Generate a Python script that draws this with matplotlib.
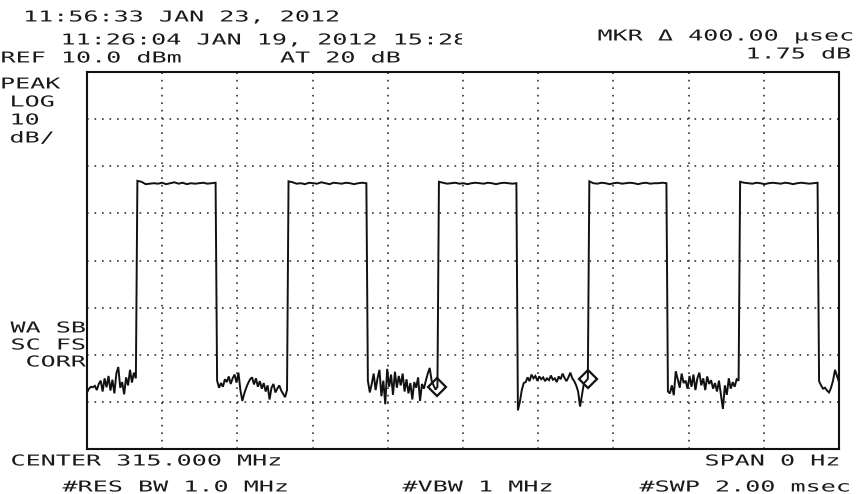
import numpy as np
import matplotlib
matplotlib.use("Agg")
import matplotlib.pyplot as plt
from matplotlib.patheffects import AbstractPathEffect
from matplotlib.transforms import Affine2D, Bbox

# sweep: 2 ms span, ref 10 dBm, 10 dB/div
sweep_ms = 2.0
ref_dbm = 10.0
bottom_dbm = -70.0

rise_ms = [0.130, 0.532, 0.932, 1.332, 1.733]
fall_ms = [0.346, 0.747, 1.146, 1.545, 1.947]

# noise floor between pulses (dBm)
noise0 = [-58.0, -57.2, -56.8, -56.9, -56.6, -57.5, -56.2, -55.5, -57.8, -55.0, -56.9, -54.5, -57.6,
          -55.3, -58.2, -54.0, -52.6, -57.0, -55.8, -58.4, -54.8, -56.5, -53.2, -55.9, -53.8, -55.0]
noise1 = [-55.5, -57.0, -56.0, -56.8, -55.2, -55.8, -54.6, -56.2, -55.0, -54.2, -55.9, -53.8, -57.5,
          -59.8, -58.2, -57.0, -56.0, -55.2, -54.8, -56.3, -55.0, -56.8, -55.6, -57.2, -56.0, -57.8,
          -56.5, -59.5, -57.0, -56.2, -58.0, -57.2, -56.5, -57.6, -58.3, -59.0, -57.5]
noise2 = [-55.5, -58.0, -56.2, -54.0, -57.5, -55.0, -53.2, -58.8, -55.5, -60.5, -53.0, -56.8, -54.2,
          -58.5, -53.6, -57.0, -54.5, -56.5, -54.0, -57.8, -55.2, -58.2, -56.0, -59.5, -55.8, -57.0,
          -54.8, -59.8, -56.2, -57.2, -55.5, -54.0, -52.8, -55.5, -56.5, -57.4, -56.8]
noise3 = [-61.8, -60.0, -57.5, -56.0, -55.8, -54.8, -55.6, -54.2, -55.0, -54.5, -55.5, -54.6, -55.2,
          -54.8, -55.6, -55.0, -55.4, -54.4, -55.3, -55.0, -55.8, -54.6, -55.2, -54.0, -54.9, -55.6,
          -54.8, -53.8, -55.0, -55.6, -56.5, -57.8, -61.0, -58.5, -56.0, -55.6, -55.1]
noise4 = [-57.8, -58.2, -56.5, -58.6, -53.5, -55.2, -57.0, -54.0, -56.0, -55.5, -57.2, -54.5, -56.8,
          -54.2, -57.5, -55.0, -53.8, -56.5, -55.0, -57.5, -54.6, -56.2, -55.4, -57.2, -56.0, -57.8,
          -55.5, -58.5, -61.5, -56.5, -58.5, -55.0, -57.2, -55.8, -56.8, -55.2, -55.5]
noise5 = [-55.6, -56.5, -57.2, -57.0, -57.6, -58.0, -57.0, -55.5, -53.2, -54.5, -55.8]

# pulse tops (dBm)
top0 = [-13.1, -13.3, -13.8, -13.7, -13.6, -13.7, -13.5, -13.8, -13.6, -13.4,
        -13.7, -13.5, -13.8, -13.6, -13.7, -13.6, -13.5, -13.7, -13.6, -13.5]
top1 = [-13.2, -13.4, -13.7, -13.6, -13.8, -13.5, -13.6, -13.7, -13.4, -13.6,
        -13.8, -13.5, -13.6, -13.7, -13.5, -13.6, -13.8, -13.6, -13.5, -13.6]
top2 = [-13.3, -13.5, -13.7, -13.6, -13.5, -13.7, -13.6, -13.8, -13.6, -13.5,
        -13.6, -13.7, -13.5, -13.6, -13.8, -13.6, -13.5, -13.6, -13.7, -13.6]
top3 = [-13.2, -13.6, -13.7, -13.5, -13.6, -13.8, -13.6, -13.5, -13.7, -13.6,
        -13.5, -13.6, -13.8, -13.6, -13.5, -13.7, -13.6, -13.6, -13.5, -13.6]
top4 = [-13.3, -13.5, -13.6, -13.7, -13.5, -13.6, -13.8, -13.6, -13.5, -13.6,
        -13.7, -13.5, -13.6, -13.8, -13.6, -13.5, -13.6, -13.7, -13.6, -13.5]

marker_ms = [0.932, 1.332]

noise = [noise0, noise1, noise2, noise3, noise4, noise5]
tops = [top0, top1, top2, top3, top4]

# build trace
t = []
v = []
starts = [0.0] + fall_ms
ends = rise_ms + [sweep_ms]
for i in range(6):
    t += list(np.linspace(starts[i], ends[i], len(noise[i])))
    v += noise[i]
    if i < 5:
        t += list(np.linspace(rise_ms[i] + 0.004, fall_ms[i] - 0.004, len(tops[i])))
        v += tops[i]
t = np.array(t)
v = np.array(v)
mk_v = np.interp(marker_ms, t, v)


class Wide(AbstractPathEffect):
    # stretch glyphs sideways to get the analyser's wide character cells
    def __init__(self, sx):
        super().__init__()
        self.sx = sx

    def draw_path(self, renderer, gc, tpath, affine, rgbFace=None):
        renderer.draw_path(gc, tpath, Affine2D().scale(self.sx, 1) + affine, rgbFace)


W, H = 859, 494
fig = plt.figure(figsize=(W / 100, H / 100), dpi=100)
fig.patch.set_facecolor("white")

ax = fig.add_axes([87 / W, (H - 449) / H, 752 / W, 377 / H])
ax.plot(t, v, color="#111111", lw=1.4, solid_joinstyle="miter")
ax.plot(marker_ms, mk_v, ls="none", marker="D", ms=9, mfc="none", mec="#111111", mew=1.6)
ax.set_xlim(0, sweep_ms)
ax.set_ylim(bottom_dbm, ref_dbm)
ax.set_xticks(np.linspace(0, sweep_ms, 11))
ax.set_yticks(np.arange(bottom_dbm, ref_dbm + 1, 10))
ax.grid(True, linestyle=(0, (1, 3.5)), color="#333333", lw=1.2)
ax.tick_params(length=0, labelbottom=False, labelleft=False)
for s in ax.spines.values():
    s.set_linewidth(1.5)
    s.set_color("#111111")

fs_px = 15.0
pitch = 15.1
wide = Wide(pitch / (0.602 * fs_px))


def label(x, y, s):
    # x = left of first cell, y = vertical middle of capitals (image pixels)
    base = y + 0.729 * fs_px / 2
    return fig.text(x / W, 1 - base / H, s, family="DejaVu Sans Mono", fontsize=fs_px * 72 / 100,
                    color="#1a1a1a", ha="left", va="baseline", path_effects=[wide])


label(23, 16, "11:56:33 JAN 23, 2012")
t2 = label(60.5, 39, "11:26:04 JAN 19, 2012 15:28")
t2.set_clip_box(Bbox.from_extents(0, 0, 462, H))
t2.set_clip_on(True)
label(0.5, 57, "REF 10.0 dBm")
label(280, 57, "AT 20 dB")
label(597.5, 35, "MKR \u0394 400.00 \u00b5sec")
label(745.5, 53, "1.75 dB")

label(0, 83, "PEAK")
label(9.5, 101, "LOG")
label(9.5, 119, "10")
label(9.5, 137, "dB/")
label(10.5, 327, "WA SB")
label(10.5, 344, "SC FS")
label(25.5, 361, "CORR")

label(10.5, 460, "CENTER 315.000 MHz")
label(62.5, 486, "#RES BW 1.0 MHz")
label(402.5, 486, "#VBW 1 MHz")
label(704.5, 460, "SPAN 0 Hz")
label(639.5, 486, "#SWP 2.00 msec")

fig.savefig("out.png", dpi=100)
